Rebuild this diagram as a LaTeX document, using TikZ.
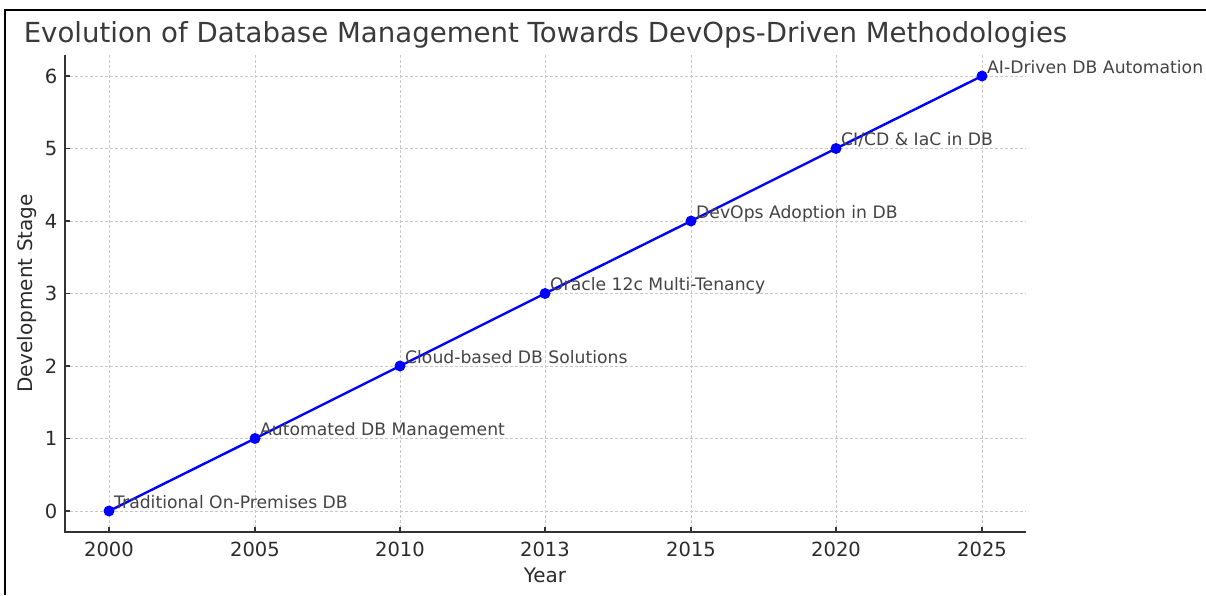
\documentclass[tikz,border=0pt]{standalone}
\usepackage{fontspec}
\setmainfont{DejaVu Sans}
\definecolor{mTitle}{HTML}{3A3A3A}
\definecolor{mTick}{HTML}{2B2B2B}
\definecolor{mNote}{HTML}{444444}
\definecolor{mGrid}{HTML}{C8C8C8}
\definecolor{mSpine}{HTML}{333333}
\usetikzlibrary{calc, positioning}

\begin{document}
\begin{tikzpicture}
		[x=1pt, y=-1pt, inner sep=0pt,
		grid/.style ={mGrid, line width=0.8pt, dash pattern=on 3pt off 2pt},
		spine/.style ={mSpine, line width=1.5pt},
		tick/.style ={text=mTick, font=\fontsize{19.5}{22}\selectfont},
		axislabel/.style ={text=mTick, font=\fontsize{20}{24}\selectfont},
		point/.style ={circle, fill=blue, minimum size=11pt},
		note/.style ={text=mNote, anchor=base west, font=\fontsize{17.2}{20}\selectfont},
		trend/.style ={blue, line width=2.4pt}]
		\useasboundingbox[fill=white] (0,0) rectangle (1206,595);
		\draw[black, line width=2pt] (5,595) -- (5,10) -- (1206,10);

		% grid
		\draw[grid] (109,55) -- (109,532);
		\draw[grid] (255,55) -- (255,532);
		\draw[grid] (400,55) -- (400,532);
		\draw[grid] (545,55) -- (545,532);
		\draw[grid] (691,55) -- (691,532);
		\draw[grid] (836,55) -- (836,532);
		\draw[grid] (982,55) -- (982,532);
		\draw[grid] (65,511) -- (1026,511);
		\draw[grid] (65,438.5) -- (1026,438.5);
		\draw[grid] (65,366) -- (1026,366);
		\draw[grid] (65,293.5) -- (1026,293.5);
		\draw[grid] (65,221) -- (1026,221);
		\draw[grid] (65,148.5) -- (1026,148.5);
		\draw[grid] (65,76) -- (1026,76);

		% axes
		\coordinate (o) at (65,532);
		\coordinate (yend) at (65,55);
		\coordinate (xend) at (1026,532);
		\draw[spine] (yend) -- (o) -- (xend);
		\draw[spine] (109,532) -- ++(0,-5) node[tick, pos=0, below=9pt] (x0) {2000};
		\draw[spine] (255,532) -- ++(0,-5) node[tick, pos=0, below=9pt] (x1) {2005};
		\draw[spine] (400,532) -- ++(0,-5) node[tick, pos=0, below=9pt] (x2) {2010};
		\draw[spine] (545,532) -- ++(0,-5) node[tick, pos=0, below=9pt] (x3) {2013};
		\draw[spine] (691,532) -- ++(0,-5) node[tick, pos=0, below=9pt] (x4) {2015};
		\draw[spine] (836,532) -- ++(0,-5) node[tick, pos=0, below=9pt] (x5) {2020};
		\draw[spine] (982,532) -- ++(0,-5) node[tick, pos=0, below=9pt] (x6) {2025};
		\draw[spine] (65,511) -- ++(5,0) node[tick, pos=0, left=7pt] (y0) {0};
		\draw[spine] (65,438.5) -- ++(5,0) node[tick, pos=0, left=7pt] (y1) {1};
		\draw[spine] (65,366) -- ++(5,0) node[tick, pos=0, left=7pt] (y2) {2};
		\draw[spine] (65,293.5) -- ++(5,0) node[tick, pos=0, left=7pt] (y3) {3};
		\draw[spine] (65,221) -- ++(5,0) node[tick, pos=0, left=7pt] (y4) {4};
		\draw[spine] (65,148.5) -- ++(5,0) node[tick, pos=0, left=7pt] (y5) {5};
		\draw[spine] (65,76) -- ++(5,0) node[tick, pos=0, left=7pt] (y6) {6};
		\node[axislabel, below=10pt of x3] (xlabel) {Year};
		\node[axislabel, rotate=90] (ylabel) at (27,293.5) {Development Stage};
		\node[text=mTitle, font=\fontsize{27.6}{32}\selectfont] (title) at (545.5,35) {Evolution of Database Management Towards DevOps-Driven Methodologies};

		% data
		\draw (109,511) node[point] (p0) {};
		\draw (255,438.5) node[point] (p1) {};
		\draw (400,366) node[point] (p2) {};
		\draw (545,293.5) node[point] (p3) {};
		\draw (691,221) node[point] (p4) {};
		\draw (836,148.5) node[point] (p5) {};
		\draw (982,76) node[point] (p6) {};
		\draw[trend] (p0.center) -- (p1.center) -- (p2.center) -- (p3.center) -- (p4.center) -- (p5.center) -- (p6.center);

		\node[note] (n0) at ($(p0.center)+(5,-3)$) {Traditional On-Premises DB};
		\node[note] (n1) at ($(p1.center)+(5,-3)$) {Automated DB Management};
		\node[note] (n2) at ($(p2.center)+(5,-3)$) {Cloud-based DB Solutions};
		\node[note] (n3) at ($(p3.center)+(5,-3)$) {Oracle 12c Multi-Tenancy};
		\node[note] (n4) at ($(p4.center)+(5,-3)$) {DevOps Adoption in DB};
		\node[note] (n5) at ($(p5.center)+(5,-3)$) {CI/CD \& IaC in DB};
		\node[note] (n6) at ($(p6.center)+(5,-3)$) {AI-Driven DB Automation};
	\end{tikzpicture}
\end{document}
